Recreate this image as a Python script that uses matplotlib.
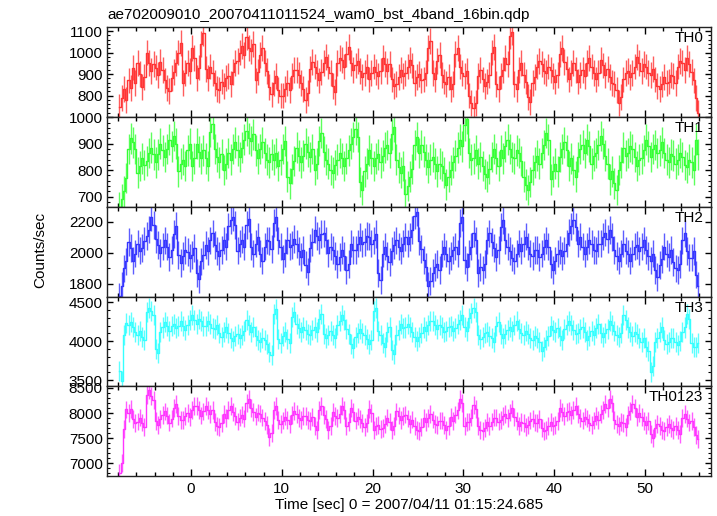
import numpy as np
import matplotlib
matplotlib.use('Agg')
import matplotlib.pyplot as plt
from matplotlib.ticker import MultipleLocator

plt.rcParams['font.family'] = ['Liberation Sans', 'DejaVu Sans']
plt.rcParams['font.size'] = 11

# time bins: 0.25 s (16 x 1/64 s), first bin starts at -8 s
t_start = -8.0
bin_width = 0.25

th0 = [745, 790, 830, 780, 870, 835, 930, 860, 950, 900, 840, 885, 1000, 950, 915, 945, 930, 895, 955, 920,
       870, 835, 820, 880, 910, 950, 1000, 1045, 860, 905, 950, 915, 1020, 975, 880, 930, 1040, 1090, 925, 880,
       935, 905, 860, 830, 825, 865, 845, 880, 890, 855, 910, 950, 960, 1000, 1030, 990, 1070, 1020, 1005, 1040,
       870, 910, 990, 1020, 950, 915, 840, 805, 860, 890, 825, 800, 800, 830, 860, 825, 890, 920, 920, 895,
       860, 830, 780, 810, 925, 955, 935, 905, 870, 910, 950, 980, 935, 905, 845, 815, 950, 975, 965, 935,
       995, 1025, 950, 920, 940, 960, 915, 885, 905, 935, 875, 905, 935, 910, 890, 915, 975, 945, 915, 945,
       875, 845, 855, 885, 920, 890, 905, 935, 965, 940, 860, 885, 900, 870, 875, 905, 1020, 1055, 905, 875,
       960, 990, 895, 865, 855, 885, 830, 855, 995, 1020, 935, 905, 890, 915, 800, 765, 740, 765, 890, 920,
       875, 845, 865, 895, 1000, 1025, 855, 830, 890, 920, 975, 945, 1075, 1095, 855, 830, 920, 950, 895, 865,
       795, 770, 860, 885, 935, 960, 945, 915, 905, 935, 920, 890, 865, 895, 995, 1020, 955, 925, 875, 905,
       950, 920, 865, 895, 920, 890, 950, 975, 935, 905, 875, 905, 965, 940, 895, 925, 885, 860, 855, 825,
       765, 795, 875, 905, 915, 885, 905, 935, 980, 950, 915, 945, 935, 905, 895, 925, 875, 845, 830, 855,
       885, 860, 865, 895, 890, 860, 935, 960, 950, 920, 975, 945, 910, 870, 790, 720]

th1 = [660, 690, 720, 770, 880, 920, 905, 880, 790, 815, 845, 820, 835, 865, 885, 860, 830, 860, 900, 875,
       850, 880, 915, 890, 930, 900, 795, 825, 840, 815, 875, 900, 815, 845, 900, 870, 845, 875, 845, 815,
       945, 975, 880, 850, 830, 860, 800, 825, 865, 840, 880, 905, 875, 850, 885, 915, 950, 920, 910, 935,
       875, 845, 880, 905, 865, 840, 830, 860, 840, 865, 815, 840, 880, 910, 775, 750, 805, 835, 885, 855,
       830, 855, 900, 870, 850, 880, 800, 825, 910, 940, 870, 840, 825, 800, 790, 820, 840, 865, 845, 815,
       845, 875, 900, 925, 955, 925, 755, 725, 795, 825, 875, 845, 815, 845, 860, 830, 855, 885, 895, 865,
       935, 965, 840, 810, 790, 815, 710, 740, 775, 805, 895, 925, 865, 895, 870, 840, 810, 840, 850, 825,
       795, 825, 815, 790, 745, 775, 800, 830, 855, 885, 915, 890, 970, 995, 865, 840, 845, 875, 825, 850,
       815, 785, 775, 805, 850, 880, 845, 815, 875, 845, 890, 915, 880, 850, 845, 875, 865, 835, 775, 745,
       725, 755, 800, 830, 855, 825, 865, 895, 940, 915, 765, 795, 825, 795, 850, 880, 905, 875, 815, 845,
       800, 775, 850, 880, 895, 865, 915, 890, 825, 855, 865, 895, 930, 900, 855, 825, 765, 795, 750, 725,
       800, 830, 885, 855, 865, 890, 880, 850, 815, 840, 845, 875, 915, 890, 850, 880, 895, 865, 875, 905,
       865, 840, 830, 860, 855, 825, 840, 865, 850, 820, 810, 840, 830, 800, 915, 860]

th2 = [1720, 1790, 1900, 1945, 2070, 2030, 1950, 1995, 2060, 2015, 2030, 2075, 2110, 2150, 2230, 2180, 2090, 2050, 2000, 2040,
       2080, 2040, 1975, 2020, 2120, 2175, 1985, 1935, 1980, 2020, 2005, 1965, 1985, 2030, 1870, 1830, 1945, 1985, 2050, 2010,
       2080, 2125, 2050, 2010, 1980, 2020, 2080, 2040, 2170, 2210, 2230, 2180, 2015, 2060, 2085, 2040, 2180, 2220, 2040, 1995,
       2060, 2100, 1995, 1950, 2040, 2080, 2075, 2025, 2190, 2230, 2080, 2040, 1960, 2000, 2080, 2040, 2050, 2090, 2055, 2010,
       1975, 2020, 1925, 1880, 2030, 2070, 2150, 2110, 2080, 2120, 2125, 2080, 2000, 2040, 2020, 1980, 1930, 1975, 2020, 1980,
       1890, 1930, 2060, 2020, 2020, 2060, 2100, 2060, 2070, 2110, 2105, 2060, 2080, 2120, 1870, 1825, 1995, 2040, 1980, 1940,
       2010, 2050, 2080, 2040, 2015, 2060, 2100, 2060, 2100, 2145, 2240, 2260, 2075, 2025, 1955, 1910, 1790, 1820, 1870, 1910,
       1930, 1890, 1995, 2040, 1995, 1950, 1980, 2020, 2040, 1995, 2190, 2230, 1955, 1910, 1995, 2040, 2125, 2080, 1870, 1910,
       1890, 1930, 2080, 2125, 2070, 2030, 1975, 2020, 2165, 2210, 2080, 2040, 2010, 1970, 1950, 1995, 2060, 2015, 2060, 2105,
       2040, 1995, 1980, 2020, 2020, 1975, 1995, 2040, 2080, 2040, 1930, 1890, 1950, 1995, 2020, 1980, 2015, 2060, 2130, 2170,
       2210, 2165, 2060, 2105, 2040, 1995, 2040, 2080, 2060, 2020, 2015, 2060, 2060, 2105, 2130, 2090, 2145, 2100, 2020, 1980,
       1950, 1995, 2060, 2015, 1995, 1950, 1995, 2040, 2050, 2010, 2040, 2080, 2020, 1980, 1950, 1995, 1890, 1845, 1920, 1960,
       2040, 1995, 1975, 2020, 1940, 1900, 1890, 1930, 2080, 2125, 2010, 1970, 1970, 2010, 1860, 1790]

th3 = [3620, 3490, 4080, 4230, 4210, 4250, 4180, 4120, 4080, 4130, 4050, 4010, 4370, 4430, 4390, 4330, 3900, 3850, 4120, 4175,
       4250, 4190, 4130, 4190, 4215, 4165, 4200, 4260, 4195, 4145, 4210, 4270, 4330, 4270, 4220, 4280, 4260, 4200, 4200, 4260,
       4220, 4165, 4150, 4210, 4105, 4055, 4120, 4175, 4100, 4040, 4005, 4060, 4090, 4040, 4075, 4125, 4270, 4210, 4120, 4180,
       4065, 4015, 3995, 4045, 4010, 3965, 3860, 3820, 4350, 4410, 4030, 3975, 4060, 4120, 4025, 3975, 4310, 4370, 4220, 4165,
       4120, 4175, 4145, 4095, 4080, 4140, 4175, 4120, 4290, 4350, 4095, 4045, 4075, 4125, 4085, 4035, 4205, 4260, 4330, 4270,
       4150, 4090, 3965, 3915, 4055, 4105, 4160, 4100, 4075, 4025, 3965, 4015, 4380, 4430, 4135, 4080, 3975, 3925, 4120, 4180,
       3885, 3835, 4080, 4140, 4215, 4165, 4175, 4225, 4180, 4120, 4055, 4005, 4050, 4110, 4175, 4125, 4205, 4260, 4260, 4205,
       4155, 4205, 4175, 4120, 4135, 4185, 4190, 4130, 4165, 4215, 4270, 4330, 4185, 4135, 4300, 4360, 4430, 4370, 4075, 4025,
       4050, 4110, 4115, 4065, 4045, 3995, 4190, 4250, 4095, 4045, 4095, 4145, 4185, 4135, 4205, 4260, 4155, 4105, 4075, 4125,
       4090, 4040, 4015, 4065, 4035, 3985, 3870, 3920, 4015, 4065, 4195, 4145, 4115, 4165, 4065, 4015, 4155, 4205, 4260, 4205,
       4145, 4095, 4105, 4155, 4175, 4120, 4015, 4065, 4125, 4075, 4165, 4215, 4105, 4055, 4105, 4155, 4260, 4205, 4135, 4085,
       4055, 4105, 4330, 4270, 4175, 4120, 4065, 4115, 4090, 4040, 3995, 4045, 3925, 3870, 3600, 3680, 3995, 4045, 4120, 4175,
       4015, 3965, 3985, 4035, 4045, 3995, 3955, 4005, 4120, 4175, 4350, 4290, 3975, 3925, 3925, 3975]

th0123 = [6810, 7000, 7680, 8070, 8000, 8080, 7880, 7800, 7830, 7910, 7810, 7730, 8360, 8450, 8340, 8260, 7840, 7760, 7880, 7960,
          8030, 7950, 7810, 7890, 8100, 8180, 7940, 7860, 7860, 7940, 8000, 7920, 8060, 8140, 8140, 8060, 7950, 8030, 8140, 8060,
          7980, 8060, 7820, 7740, 7720, 7800, 7980, 7900, 8060, 8140, 8020, 7940, 7830, 7910, 7970, 7890, 8200, 8280, 8100, 8020,
          7930, 8010, 7990, 7910, 7840, 7760, 7520, 7600, 8060, 8140, 7860, 7780, 7850, 7930, 7860, 7780, 7960, 8040, 7980, 7900,
          7860, 7940, 7940, 7860, 7840, 7920, 7740, 7660, 8060, 8140, 7960, 7880, 7660, 7740, 8020, 7940, 7900, 7980, 8140, 8060,
          7740, 7820, 8100, 8020, 7850, 7930, 7880, 7800, 7720, 7800, 8080, 8000, 7660, 7740, 7760, 7680, 7710, 7790, 7910, 7830,
          7660, 7740, 8030, 7950, 7860, 7940, 7970, 7890, 7790, 7870, 7740, 7660, 7640, 7720, 7900, 7820, 7900, 7980, 7870, 7790,
          7770, 7850, 7850, 7770, 7660, 7740, 7920, 7840, 7970, 8050, 8280, 8200, 7740, 7820, 7830, 7910, 8160, 8080, 7740, 7660,
          7640, 7710, 7820, 7740, 7830, 7910, 7910, 7830, 7860, 7940, 7980, 7900, 8010, 8090, 7920, 7840, 7740, 7820, 7800, 7720,
          7770, 7850, 7890, 7810, 7800, 7880, 7710, 7640, 7660, 7740, 7820, 7740, 7760, 7840, 8100, 8020, 7940, 8020, 8040, 7960,
          8060, 8140, 7980, 7900, 7850, 7930, 7890, 7810, 7770, 7850, 7940, 7860, 7980, 8060, 8180, 8100, 8270, 8190, 7860, 7780,
          7740, 7820, 7800, 7720, 7960, 8040, 8180, 8100, 7920, 8000, 7920, 7840, 7760, 7840, 7580, 7500, 7700, 7780, 7740, 7660,
          7640, 7720, 7780, 7700, 7660, 7740, 7660, 7580, 7900, 7980, 7890, 7810, 7840, 7720, 7560, 7480]

names = ['TH0', 'TH1', 'TH2', 'TH3', 'TH0123']
series = [th0, th1, th2, th3, th0123]
errors = [60, 58, 89, 128, 178]   # typical 1-sigma per 0.25 s bin
colors = ['#ff3535', '#35ff35', '#3535ff', '#35ffff', '#ff35ff']
ylims = [(700, 1117), (661, 1001), (1719, 2296), (3423, 4571), (6746, 8532)]
yticks = [[800, 900, 1000, 1100], [700, 800, 900, 1000], [1800, 2000, 2200],
          [3500, 4000, 4500], [7000, 7500, 8000, 8500]]
yminor = [20, 20, 100, 100, 100]

fig, axes = plt.subplots(5, 1, sharex=True, figsize=(7.17, 5.16), dpi=100)
fig.subplots_adjust(left=0.1492, right=0.9916, top=0.947, bottom=0.0775, hspace=0)

for k, ax in enumerate(axes):
    y = np.array(series[k])
    t = t_start + bin_width * (np.arange(len(y)) + 0.5)
    # qdp style: histogram steps + error bars
    ax.step(t, y, where='mid', color=colors[k], lw=1.0)
    ax.errorbar(t, y, yerr=errors[k], fmt='none', ecolor=colors[k],
                elinewidth=1.0, capsize=0, alpha=0.8)
    ax.set_ylim(*ylims[k])
    ax.set_yticks(yticks[k])
    ax.yaxis.set_minor_locator(MultipleLocator(yminor[k]))
    ax.xaxis.set_major_locator(MultipleLocator(10))
    ax.xaxis.set_minor_locator(MultipleLocator(2))
    ax.tick_params(which='both', direction='in', top=True, right=True)
    ax.tick_params(axis='x', which='major', length=5, width=1)
    ax.tick_params(axis='x', which='minor', length=3, width=1)
    ax.tick_params(axis='y', which='major', length=4, width=1, pad=3)
    ax.tick_params(axis='y', which='minor', length=2, width=0.8)
    for s in ax.spines.values():
        s.set_linewidth(1.0)
        s.set_color('#222222')
    ax.text(0.987, 0.877, names[k], transform=ax.transAxes,
            ha='right', va='center', fontsize=11)

axes[-1].set_xlim(-9.25, 57.27)
axes[-1].set_xlabel('Time [sec] 0 = 2007/04/11 01:15:24.685', labelpad=2)
axes[-1].tick_params(axis='x', pad=4)

fig.text(107 / 717, 1 - 15 / 516, 'ae702009010_20070411011524_wam0_bst_4band_16bin.qdp',
         ha='left', va='center', fontsize=11)
fig.text(40 / 717, 1 - 250 / 516, 'Counts/sec', rotation=90,
         ha='center', va='center', fontsize=11)

plt.savefig('out.png', dpi=100)
